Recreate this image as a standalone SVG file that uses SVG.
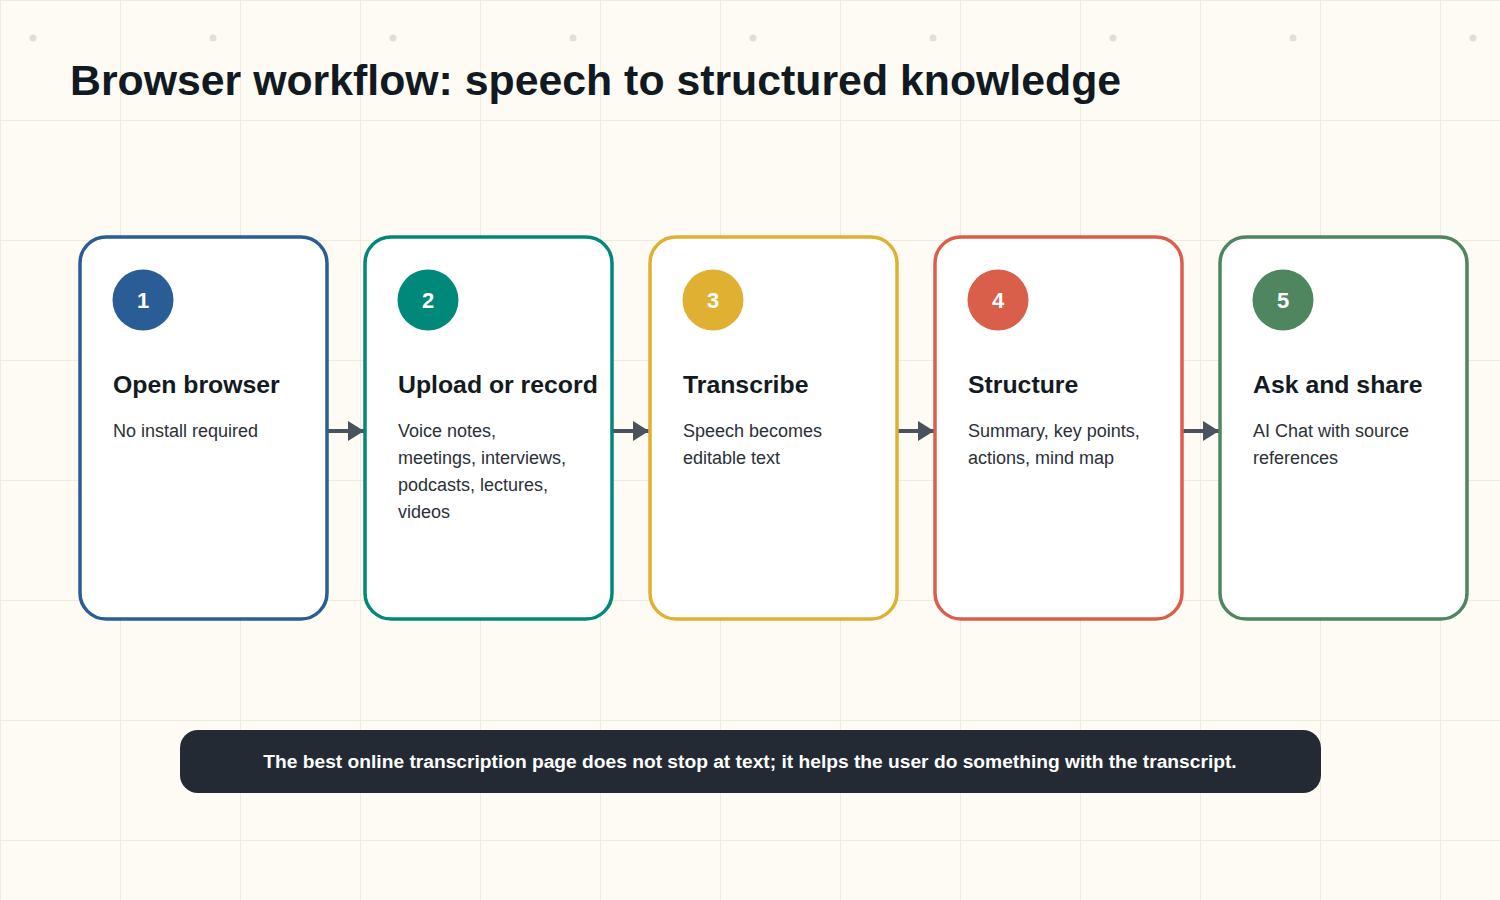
<svg xmlns="http://www.w3.org/2000/svg" width="1500" height="900" viewBox="0 0 1500 900">
<defs>
<pattern id="grid" width="120" height="120" patternUnits="userSpaceOnUse">
<path d="M120 0 L0 0 0 120" fill="none" stroke="#f1ebdf" stroke-width="2"/>
</pattern>
<marker id="ah" viewBox="0 0 16 20" refX="16" refY="10" markerWidth="16" markerHeight="20" markerUnits="userSpaceOnUse" orient="auto">
<path d="M0 0 L16 10 L0 20 Z" fill="#4a525d"/>
</marker>
<style>
.card{fill:#ffffff;stroke-width:3.5}
.num{font-family:"Liberation Sans",Arial,sans-serif;font-weight:bold;font-size:22px;fill:#ffffff;text-anchor:middle}
.ttl{font-family:"Liberation Sans",Arial,sans-serif;font-weight:bold;font-size:24.8px;fill:#131a22}
.desc{font-family:"Liberation Sans",Arial,sans-serif;font-size:18px;fill:#2b3038}
.conn{stroke:#4a525d;stroke-width:4;fill:none}
.dot{fill:#e3ddd3}
</style>
</defs>
<rect width="1500" height="900" fill="#fefbf4"/>
<rect width="1500" height="900" fill="url(#grid)"/>
<g id="dots">
<circle class="dot" cx="33" cy="38" r="3.5"/><circle class="dot" cx="213" cy="38" r="3.5"/><circle class="dot" cx="393" cy="38" r="3.5"/><circle class="dot" cx="573" cy="38" r="3.5"/><circle class="dot" cx="753" cy="38" r="3.5"/><circle class="dot" cx="933" cy="38" r="3.5"/><circle class="dot" cx="1113" cy="38" r="3.5"/><circle class="dot" cx="1293" cy="38" r="3.5"/><circle class="dot" cx="1473" cy="38" r="3.5"/>
</g>
<text x="70" y="95" font-family="'Liberation Sans',Arial,sans-serif" font-weight="bold" font-size="42.8" fill="#111a22">Browser workflow: speech to structured knowledge</text>
<g id="connectors">
<line class="conn" x1="327" y1="431" x2="364" y2="431" marker-end="url(#ah)"/>
<line class="conn" x1="612" y1="431" x2="649" y2="431" marker-end="url(#ah)"/>
<line class="conn" x1="897" y1="431" x2="934" y2="431" marker-end="url(#ah)"/>
<line class="conn" x1="1182" y1="431" x2="1219" y2="431" marker-end="url(#ah)"/>
</g>
<g id="node1">
<rect class="card" x="80" y="237" width="247" height="382" rx="26" stroke="#2a5d96"/>
<circle cx="143" cy="300" r="30.5" fill="#2a5d96"/>
<text class="num" x="143" y="308">1</text>
<text class="ttl" x="113" y="393">Open browser</text>
<text class="desc" x="113" y="437">No install required</text>
</g>
<g id="node2">
<rect class="card" x="365" y="237" width="247" height="382" rx="26" stroke="#00897a"/>
<circle cx="428" cy="300" r="30.5" fill="#00897a"/>
<text class="num" x="428" y="308">2</text>
<text class="ttl" x="398" y="393">Upload or record</text>
<text class="desc" x="398" y="437">Voice notes,</text>
<text class="desc" x="398" y="464">meetings, interviews,</text>
<text class="desc" x="398" y="491">podcasts, lectures,</text>
<text class="desc" x="398" y="518">videos</text>
</g>
<g id="node3">
<rect class="card" x="650" y="237" width="247" height="382" rx="26" stroke="#e0b033"/>
<circle cx="713" cy="300" r="30.5" fill="#e0b033"/>
<text class="num" x="713" y="308">3</text>
<text class="ttl" x="683" y="393">Transcribe</text>
<text class="desc" x="683" y="437">Speech becomes</text>
<text class="desc" x="683" y="464">editable text</text>
</g>
<g id="node4">
<rect class="card" x="935" y="237" width="247" height="382" rx="26" stroke="#d95f4b"/>
<circle cx="998" cy="300" r="30.5" fill="#d95f4b"/>
<text class="num" x="998" y="308">4</text>
<text class="ttl" x="968" y="393">Structure</text>
<text class="desc" x="968" y="437">Summary, key points,</text>
<text class="desc" x="968" y="464">actions, mind map</text>
</g>
<g id="node5">
<rect class="card" x="1220" y="237" width="247" height="382" rx="26" stroke="#4f8660"/>
<circle cx="1283" cy="300" r="30.5" fill="#4f8660"/>
<text class="num" x="1283" y="308">5</text>
<text class="ttl" x="1253" y="393">Ask and share</text>
<text class="desc" x="1253" y="437">AI Chat with source</text>
<text class="desc" x="1253" y="464">references</text>
</g>
<g id="footer">
<rect x="180" y="730" width="1141" height="63" rx="18" fill="#232a34"/>
<text x="750" y="768" text-anchor="middle" font-family="'Liberation Sans',Arial,sans-serif" font-weight="bold" font-size="19.2" fill="#ffffff">The best online transcription page does not stop at text; it helps the user do something with the transcript.</text>
</g>
</svg>
